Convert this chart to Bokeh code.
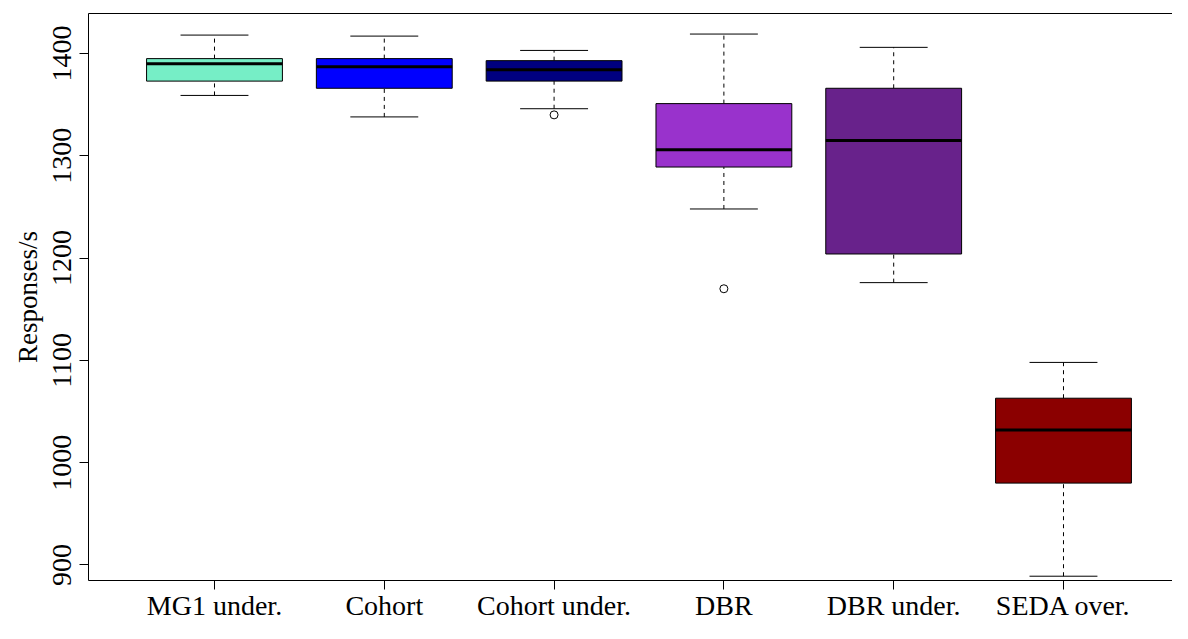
from bokeh.plotting import figure
from bokeh.models import Range1d, FixedTicker, LinearAxis
from bokeh.embed import file_html
from bokeh.resources import INLINE

categories = ["MG1 under.", "Cohort", "Cohort under.", "DBR", "DBR under.", "SEDA over."]
whisker_low = [1359, 1338, 1346, 1248, 1176, 889]
q1 = [1373, 1366, 1373, 1289, 1204, 980]
median = [1390, 1387, 1384, 1306, 1315, 1032]
q3 = [1395, 1395, 1393, 1351, 1366, 1063]
whisker_high = [1418, 1417, 1403, 1419, 1406, 1098]
outlier_cat = ["Cohort under.", "DBR"]
outlier_val = [1340, 1170]
colors = ["#76EEC6", "#0000FF", "#000080", "#9932CC", "#68228B", "#8B0000"]
y_ticks = [900, 1000, 1100, 1200, 1300, 1400]

FONT = "Liberation Serif"

xs = [i + 1 for i in range(len(categories))]
ox = [categories.index(c) + 1 for c in outlier_cat]

p = figure(width=1172, height=623, output_backend="svg", toolbar_location=None,
           x_range=Range1d(0.258, 6.642), y_range=Range1d(884.8, 1439.1),
           min_border_left=88, min_border_right=0, min_border_top=13, min_border_bottom=39,
           x_axis_location=None, y_axis_location=None)
p.outline_line_color = None
p.grid.visible = False
p.background_fill_color = "white"
p.border_fill_color = "white"

# whiskers (dashed)
p.segment(x0=xs, y0=q3, x1=xs, y1=whisker_high, line_color="black", line_width=1, line_dash="4 4")
p.segment(x0=xs, y0=whisker_low, x1=xs, y1=q1, line_color="black", line_width=1, line_dash="4 4")
# caps
p.segment(x0=[x - 0.2 for x in xs], y0=whisker_high, x1=[x + 0.2 for x in xs], y1=whisker_high,
          line_color="black", line_width=1)
p.segment(x0=[x - 0.2 for x in xs], y0=whisker_low, x1=[x + 0.2 for x in xs], y1=whisker_low,
          line_color="black", line_width=1)
# boxes
p.vbar(x=xs, width=0.8, bottom=q1, top=q3, fill_color=colors, line_color="black", line_width=1)
# medians
p.segment(x0=[x - 0.4 for x in xs], y0=median, x1=[x + 0.4 for x in xs], y1=median,
          line_color="black", line_width=3)
# outliers
p.scatter(x=ox, y=outlier_val, size=8, fill_color=None, line_color="black", line_width=1)

yaxis = LinearAxis(ticker=FixedTicker(ticks=y_ticks), axis_label="Responses/s")
yaxis.major_label_orientation = "vertical"
xaxis = LinearAxis(ticker=FixedTicker(ticks=xs),
                   major_label_overrides={x: c for x, c in zip(xs, categories)})
for ax in (yaxis, xaxis):
    ax.axis_line_color = "black"
    ax.major_tick_line_color = "black"
    ax.major_tick_out = 9
    ax.major_tick_in = 0
    ax.minor_tick_line_color = None
    ax.major_label_text_font = FONT
    ax.major_label_text_font_size = "28px"
    ax.major_label_text_color = "black"
    ax.axis_label_text_font = FONT
    ax.axis_label_text_font_size = "27px"
    ax.axis_label_text_font_style = "normal"
    ax.axis_label_text_color = "black"
yaxis.major_label_standoff = 8
yaxis.axis_label_standoff = 8
xaxis.major_label_standoff = 0
p.add_layout(yaxis, "left")
p.add_layout(xaxis, "below")

top = LinearAxis(ticker=FixedTicker(ticks=[]))
top.axis_line_color = "black"
top.major_tick_line_color = None
top.minor_tick_line_color = None
top.major_tick_out = 0
top.major_label_text_font_size = "0px"
top.major_label_standoff = 0
p.add_layout(top, "above")

open("out.html", "w").write(file_html(p, INLINE))
